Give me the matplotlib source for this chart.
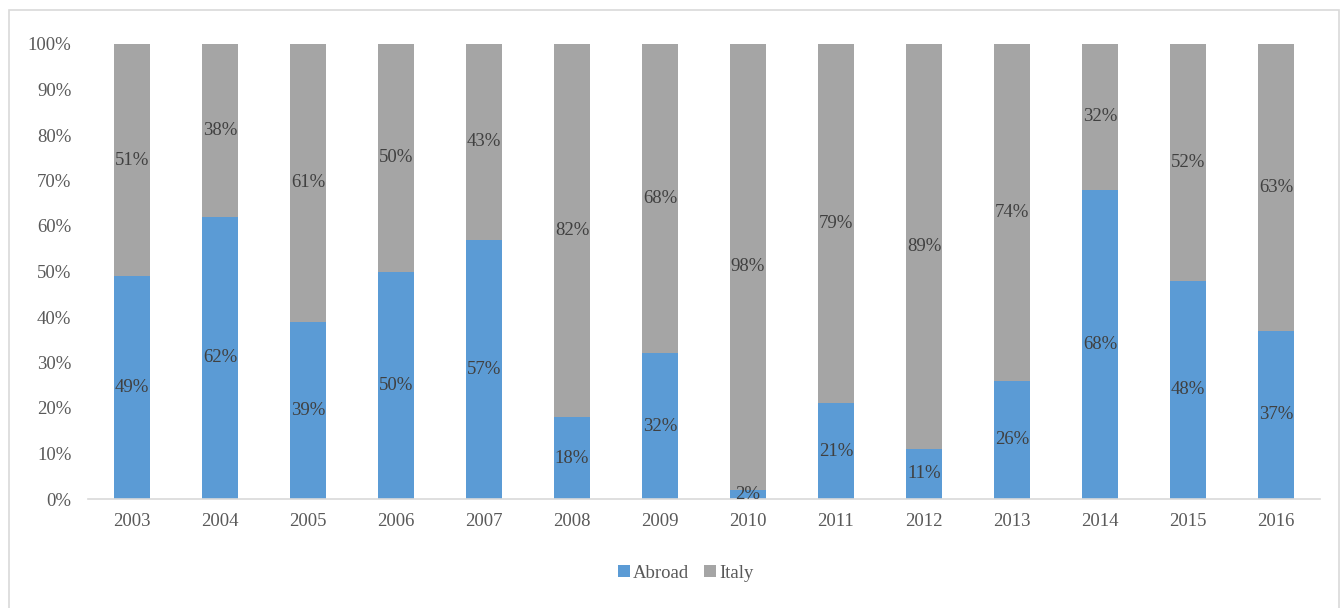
import matplotlib.pyplot as plt
from matplotlib.patches import Rectangle

years = ["2003", "2004", "2005", "2006", "2007", "2008", "2009",
         "2010", "2011", "2012", "2013", "2014", "2015", "2016"]
abroad = [49, 62, 39, 50, 57, 18, 32, 2, 21, 11, 26, 68, 48, 37]
italy = [51, 38, 61, 50, 43, 82, 68, 98, 79, 89, 74, 32, 52, 63]

plt.rcParams['font.family'] = ['Liberation Serif', 'DejaVu Serif']

fig = plt.figure(figsize=(13.41, 6.08), dpi=100)
ax = fig.add_axes([88 / 1341, 1 - 499 / 608, (1320 - 88) / 1341, 455 / 608])

# outer frame of the chart area (bottom edge falls outside the image)
fig.patches.append(Rectangle((9 / 1341, -0.05), 1330 / 1341, 1.05 - 10 / 608,
                             transform=fig.transFigure, fill=False,
                             edgecolor="#d9d9d9", linewidth=1.2))

x = range(len(years))
b1 = ax.bar(x, abroad, width=0.4, color="#5b9bd5", label="Abroad")
b2 = ax.bar(x, italy, width=0.4, bottom=abroad, color="#a5a5a5", label="Italy")

for i in x:
    ax.text(i, abroad[i] / 2, f"{abroad[i]}%", ha="center", va="center",
            fontsize=13.5, color="#404040")
    ax.text(i, abroad[i] + italy[i] / 2, f"{italy[i]}%", ha="center", va="center",
            fontsize=13.5, color="#404040")

ax.set_xlim(-0.5, len(years) - 0.5)
ax.set_ylim(0, 100)
ax.set_yticks(range(0, 101, 10))
ax.set_yticklabels([f"{v}%" for v in range(0, 101, 10)])
ax.set_xticks(list(x))
ax.set_xticklabels(years)
ax.tick_params(axis="both", length=0, labelsize=13.5, colors="#595959")
ax.tick_params(axis="y", pad=12)
ax.tick_params(axis="x", pad=10)

for s in ["top", "right", "left"]:
    ax.spines[s].set_visible(False)
ax.spines["bottom"].set_color("#d9d9d9")
ax.spines["bottom"].set_linewidth(1.2)

fig.legend(handles=[b1, b2], loc="center", bbox_to_anchor=(686 / 1341, 1 - 573 / 608),
           ncol=2, frameon=False, fontsize=13.5, handlelength=0.6, handleheight=0.6,
           handletextpad=0.2, columnspacing=0.8, labelcolor="#595959")

fig.savefig("out.png", dpi=100)
